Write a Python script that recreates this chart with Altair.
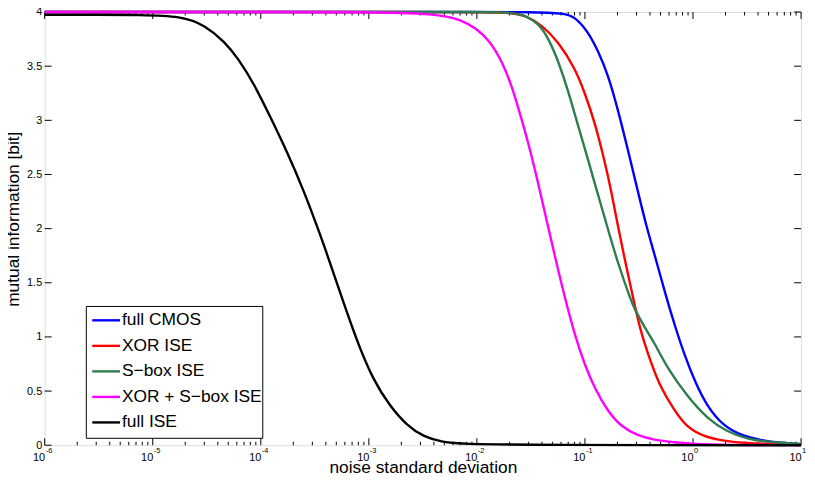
import altair as alt
import pandas as pd

# ---------------- data ----------------
series_names = ["full CMOS", "XOR ISE", "S\u2212box ISE", "XOR + S\u2212box ISE", "full ISE"]
series_colors = ["#0000ff", "#ff0000", "#2e7d4e", "#ff00ff", "#000000"]

cmos_x = [1e-6, 1e-3, 0.01, 0.0316, 0.0656, 0.0809, 0.1072, 0.1324, 0.1637, 0.2018, 0.2494,
          0.308, 0.368, 0.45, 0.55, 0.68, 0.85, 1.05, 1.35, 1.9, 2.8, 4.2, 6.5, 10]
cmos_y = [4.0, 4.0, 4.0, 4.0, 3.99, 3.954, 3.817, 3.64, 3.42, 3.10, 2.73,
          2.35, 2.03, 1.73, 1.41, 1.10, 0.81, 0.58, 0.36, 0.18, 0.09, 0.045, 0.02, 0.01]

xor_x = [1e-6, 1e-3, 0.01, 0.02, 0.0282, 0.0401, 0.0569, 0.0809, 0.1, 0.1236, 0.1524, 0.1758,
         0.1995, 0.2328, 0.2877, 0.3266, 0.381, 0.488, 0.674, 0.887, 1.262, 1.923, 3.15, 5.53, 10]
xor_y = [4.0, 4.0, 4.0, 3.995, 3.97, 3.878, 3.725, 3.48, 3.25, 2.98, 2.62, 2.34,
         2.05, 1.72, 1.30, 1.06, 0.85, 0.55, 0.32, 0.16, 0.08, 0.04, 0.018, 0.01, 0.005]

sbox_x = [1e-6, 1e-3, 0.01, 0.016, 0.0217, 0.0282, 0.0373, 0.0461, 0.0569, 0.0703, 0.0869,
          0.1074, 0.1324, 0.1637, 0.2018, 0.268, 0.2877, 0.35, 0.4385, 0.57, 0.887, 1.352,
          2.065, 3.15, 5.16, 10]
sbox_y = [4.0, 4.0, 4.0, 3.998, 3.99, 3.97, 3.893, 3.756, 3.542, 3.268, 2.94,
          2.63, 2.31, 1.99, 1.68, 1.33, 1.26, 1.10, 0.95, 0.72, 0.45, 0.247,
          0.125, 0.058, 0.027, 0.011]

both_x = [1e-6, 1e-4, 1e-3, 0.00421, 0.00713, 0.0098, 0.0130, 0.0172, 0.0213, 0.0244, 0.0302,
          0.0373, 0.0446, 0.0531, 0.0656, 0.0809, 0.1, 0.1236, 0.1637, 0.2173, 0.308,
          0.4385, 0.67, 1.02, 2.0, 10]
both_y = [4.0, 4.0, 4.0, 3.985, 3.93, 3.85, 3.74, 3.54, 3.30, 3.10, 2.78,
          2.40, 2.06, 1.73, 1.35, 1.01, 0.735, 0.522, 0.308, 0.171, 0.089,
          0.049, 0.027, 0.010, 0.003, 0.0]

full_x = [1e-6, 3.16e-6, 7.4e-6, 1.86e-5, 3.04e-5, 4.65e-5, 6.15e-5, 8.75e-5, 1.24e-4,
          1.77e-4, 2.52e-4, 3.21e-4, 3.84e-4, 5.46e-4, 7.76e-4, 1.10e-3, 1.57e-3, 2.23e-3,
          3.18e-3, 4.84e-3, 7.40e-3, 0.0316, 10]
full_y = [3.975, 3.975, 3.972, 3.963, 3.878, 3.725, 3.573, 3.33, 3.02,
          2.70, 2.34, 2.06, 1.85, 1.40, 0.96, 0.60, 0.36, 0.186,
          0.080, 0.027, 0.012, 0.002, 0.0]

major_x = [1e-6, 1e-5, 1e-4, 1e-3, 1e-2, 1e-1, 1, 10]
exponent_labels = ["-6", "-5", "-4", "-3", "-2", "-1", "0", "1"]
y_ticks = [0, 0.5, 1, 1.5, 2, 2.5, 3, 3.5, 4]

# ---------------- tables ----------------
all_x = [cmos_x, xor_x, sbox_x, both_x, full_x]
all_y = [cmos_y, xor_y, sbox_y, both_y, full_y]
frames = []
for name, xs, ys in zip(series_names, all_x, all_y):
    frames.append(pd.DataFrame({"x": xs, "y": ys, "series": name}))

df_major = pd.DataFrame({"x": major_x, "exp": exponent_labels})
minor_x = [m * d for d in major_x[:-1] for m in range(2, 10)]
df_minor = pd.DataFrame({"x": minor_x})
df_y = pd.DataFrame({"y": y_ticks})
df_leg = pd.DataFrame({"series": series_names, "row": list(range(len(series_names)))})

W, H = 763, 437
FONT = "Liberation Sans"

xscale = alt.Scale(type="log", domain=[1e-6, 10], nice=False)
yscale = alt.Scale(domain=[0, 4], nice=False, zero=False)
cscale = alt.Scale(domain=series_names, range=series_colors)

x_axis = alt.Axis(values=major_x, labelExpr="'10'", labelAlign="right", labelBaseline="top",
                  labelPadding=6, labelFontSize=11, labelFont=FONT, labelColor="black",
                  ticks=False, tickSize=0, domain=False, grid=False, labelFlush=False,
                  labelOverlap=False, title="noise standard deviation", titleFont=FONT,
                  titleFontSize=17.5, titleFontWeight="normal", titleColor="black",
                  titleX=W / 2, titleY=28, titleBaseline="alphabetic")
y_axis = alt.Axis(values=y_ticks, format="~g", labelFontSize=11, labelFont=FONT,
                  labelColor="black", labelPadding=3, ticks=False, tickSize=0, domain=False,
                  grid=False, title="mutual information [bit]", titleFont=FONT,
                  titleFontSize=17.5, titleFontWeight="normal", titleColor="black",
                  titleX=-26, titleY=H / 2 - 10, titleBaseline="alphabetic")

layers = []
for f in frames:
    layers.append(
        alt.Chart(f).mark_line(strokeWidth=2.4, interpolate="basis").encode(
            x=alt.X("x:Q", scale=xscale, axis=x_axis),
            y=alt.Y("y:Q", scale=yscale, axis=y_axis),
            color=alt.Color("series:N", scale=cscale, legend=None),
        )
    )

tick_style = dict(color="black", strokeWidth=1)
bot_major = alt.Chart(df_major).mark_rule(**tick_style).encode(
    x=alt.X("x:Q", scale=xscale), y=alt.value(H), y2=alt.value(H - 7))
top_major = alt.Chart(df_major).mark_rule(**tick_style).encode(
    x=alt.X("x:Q", scale=xscale), y=alt.value(0), y2=alt.value(7))
bot_minor = alt.Chart(df_minor).mark_rule(**tick_style).encode(
    x=alt.X("x:Q", scale=xscale), y=alt.value(H), y2=alt.value(H - 3.5))
top_minor = alt.Chart(df_minor).mark_rule(**tick_style).encode(
    x=alt.X("x:Q", scale=xscale), y=alt.value(0), y2=alt.value(3.5))
left_y = alt.Chart(df_y).mark_rule(**tick_style).encode(
    y=alt.Y("y:Q", scale=yscale), x=alt.value(0), x2=alt.value(7))
right_y = alt.Chart(df_y).mark_rule(**tick_style).encode(
    y=alt.Y("y:Q", scale=yscale), x=alt.value(W), x2=alt.value(W - 7))
exps = alt.Chart(df_major).mark_text(align="left", baseline="alphabetic", dx=1,
                                     fontSize=7.5, font=FONT, color="black").encode(
    x=alt.X("x:Q", scale=xscale), y=alt.value(H + 8), text="exp:N")

# ---- legend box drawn by hand (MATLAB style) ----
LX0, LX1, LY0, LY1 = 42, 220, 297, 430
ROW0, ROWSTEP = 311, 25.75
leg_box = alt.Chart(df_leg.head(1)).mark_rect(fill="white", stroke="black",
                                               strokeWidth=1).encode(
    x=alt.value(LX0), x2=alt.value(LX1), y=alt.value(LY0), y2=alt.value(LY1))
leg_base = alt.Chart(df_leg).transform_calculate(ly=f"{ROW0} + datum.row * {ROWSTEP}")
leg_lines = leg_base.mark_rule(strokeWidth=2.4).encode(
    x=alt.value(48), x2=alt.value(76), y=alt.Y("ly:Q", scale=None),
    color=alt.Color("series:N", scale=cscale, legend=None))
leg_text = leg_base.mark_text(align="left", baseline="middle", fontSize=17.5, font=FONT,
                              color="black").encode(
    x=alt.value(78), y=alt.Y("ly:Q", scale=None), text="series:N")

chart = alt.layer(bot_minor, top_minor, bot_major, top_major, left_y, right_y, *layers, exps,
                  leg_box, leg_lines, leg_text
                  ).properties(
    width=W, height=H,
    autosize=alt.AutoSizeParams(type="none"),
    padding={"left": 37, "top": 2, "right": 6, "bottom": 32},
).configure_view(stroke="black", strokeWidth=1
).configure(background="white")

chart.save("out.html", embed_options={"renderer": "svg", "actions": False})
